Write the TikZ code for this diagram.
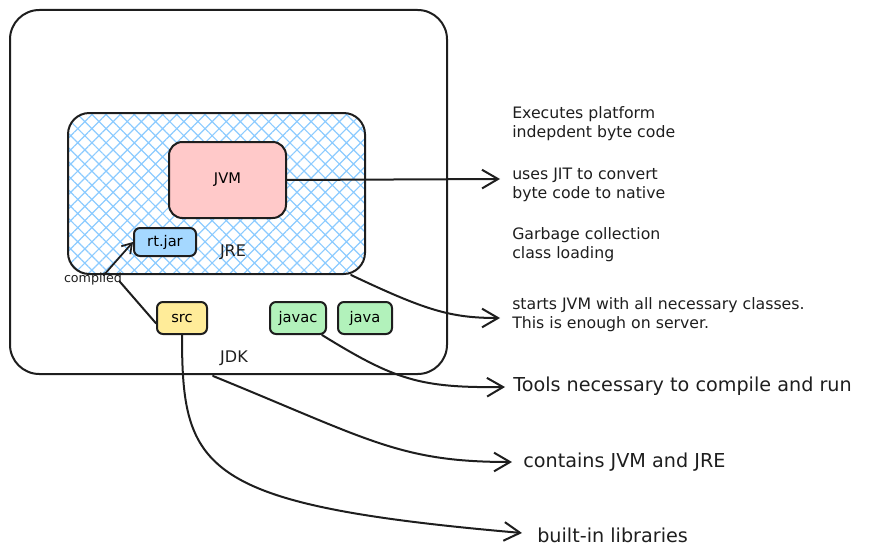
\documentclass[tikz,border=0pt]{standalone}
\usepackage{fontspec}
\setmainfont{DejaVu Sans}
\usetikzlibrary{arrows.meta,patterns.meta}
\definecolor{ink}{HTML}{1E1E1E}
\definecolor{jreblue}{HTML}{A5D8FF}
\definecolor{hatchblue}{HTML}{8CCBFF}
\definecolor{jvmpink}{HTML}{FFC9C9}
\definecolor{srcyellow}{HTML}{FFEC99}
\definecolor{toolgreen}{HTML}{B2F2BB}
\tikzset{
  box/.style={draw=ink, line width=1.5pt, inner sep=0pt, font=\fontsize{11}{13}\selectfont},
  lbl/.style={inner sep=0pt, text=ink, font=\fontsize{12}{14}\selectfont},
  note/.style={anchor=west, align=left, inner sep=0pt, text=ink, font=\fontsize{11.8}{14.25}\selectfont},
  bignote/.style={anchor=west, inner sep=0pt, text=ink, font=\fontsize{14.4}{16}\selectfont},
  conn/.style={draw=ink, line width=1.5pt, line cap=round, -{Straight Barb[length=12pt,width=14pt,line width=1.5pt]}},
  smallconn/.style={draw=ink, line width=1.3pt, line cap=round, -{Straight Barb[length=7pt,width=9pt,line width=1.3pt]}},
  plainconn/.style={draw=ink, line width=1.5pt, line cap=round}
}
\begin{document}
\begin{tikzpicture}[x=0.75pt,y=-0.75pt]
\useasboundingbox (0,0) rectangle (871,560);
% JDK outer box
\node[box, rounded corners=22pt, minimum width=327.75pt, minimum height=273pt] (jdk) at (228.5,192) {};
% JRE box with hatch
\node[box, rounded corners=16pt, minimum width=222.75pt, minimum height=120.75pt,
      pattern={Hatch[angle=45,distance=7.5pt,line width=0.9pt]}, pattern color=hatchblue] (jre) at (216.5,193.5) {};
% JVM
\node[box, fill=jvmpink, rounded corners=10pt, minimum width=87.75pt, minimum height=57pt] (jvm) at (227.5,180) {JVM};
% rt.jar
\node[box, fill=jreblue, rounded corners=4.5pt, minimum width=46.5pt, minimum height=21pt] (rtjar) at (165,242) {rt.jar};
% src, javac, java
\node[box, fill=srcyellow, rounded corners=4.5pt, minimum width=37.5pt, minimum height=24pt] (src) at (182,318) {src};
\node[box, fill=toolgreen, rounded corners=4.5pt, minimum width=42pt, minimum height=24pt] (javac) at (298,318) {javac};
\node[box, fill=toolgreen, rounded corners=4.5pt, minimum width=40.5pt, minimum height=24pt] (java) at (365,318) {java};
% labels
\node[lbl] (jrel) at (233,252) {JRE};
\node[lbl] (jdkl) at (234,358) {JDK};
\node[lbl, font=\fontsize{9.5}{11}\selectfont] (comp) at (93,279) {compiled};
% notes
\node[note] (exec) at (512,124) {Executes platform\\indepdent byte code};
\node[note] (jit) at (512,185) {uses JIT to convert\\byte code to native};
\node[note] (gc) at (512,245) {Garbage collection\\class loading};
\node[note] (starts) at (512,315) {starts JVM with all necessary classes.\\This is enough on server.};
\node[bignote] (tools) at (513,386) {Tools necessary to compile and run};
\node[bignote] (contains) at (523,462) {contains JVM and JRE};
\node[bignote] (builtin) at (537,535) {built-in libraries};
% arrow tips
\coordinate (t1) at (500,179);
\coordinate (t2) at (500,318);
\coordinate (t3) at (505,387);
\coordinate (t4) at (512,462);
\coordinate (t5) at (522,533);
\coordinate (jrecorner) at (351,275);
\coordinate (jdkbot) at (213,376);
% connectors
\draw[conn] (jvm.east) -- (t1);
\draw[conn] (jrecorner) .. controls (425,310) and (450,318) .. (t2);
\draw[conn] ([xshift=18]javac.south) .. controls (395,380) and (420,388) .. (t3);
\draw[conn] (jdkbot) .. controls (370,440) and (400,462) .. (t4);
\draw[conn] (src.south) .. controls (182,470) and (200,505) .. (t5);
\draw[plainconn] ([yshift=-4]src.west) -- ([xshift=-2,yshift=3]comp.south east);
\draw[smallconn] ([xshift=8,yshift=-2]comp.north) -- (rtjar.west);
\end{tikzpicture}
\end{document}
